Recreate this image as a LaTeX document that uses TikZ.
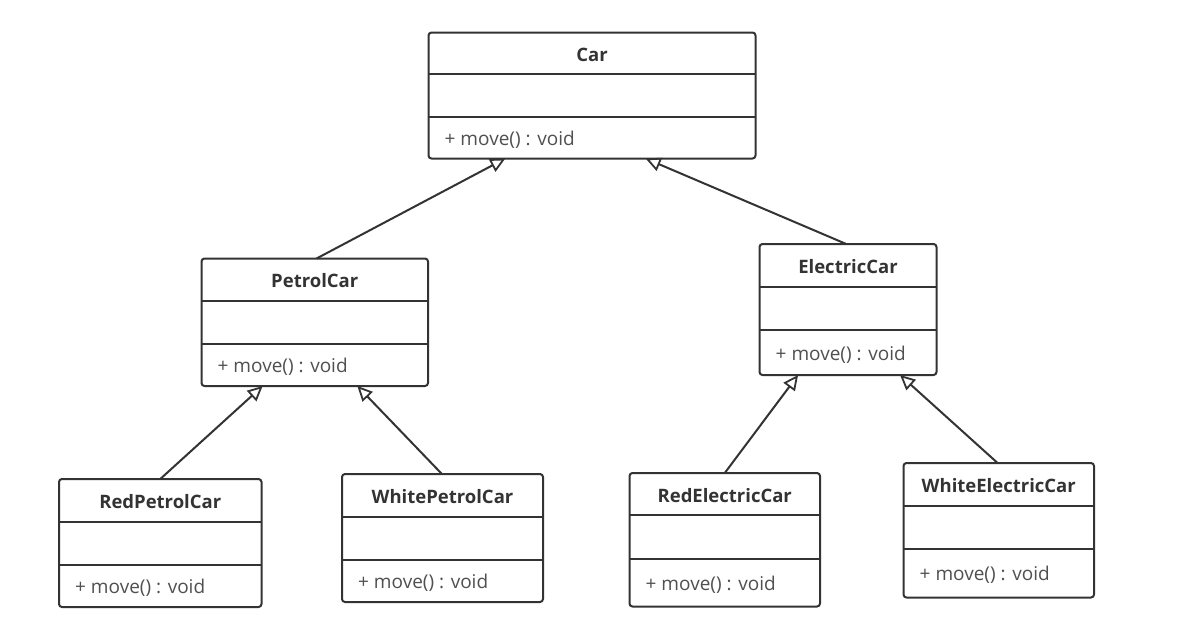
\documentclass[tikz,border=0pt]{standalone}
\usepackage{fontspec}
\setmainfont{Open Sans}
\usetikzlibrary{arrows.meta,calc}
\definecolor{ink}{HTML}{333333}
\definecolor{memberink}{HTML}{505050}
\tikzset{
  classbox/.style={draw=ink, line width=2pt, rounded corners=3pt, fill=white,
    inner sep=0pt, outer sep=0pt, anchor=north west},
  divider/.style={draw=ink, line width=2pt},
  classname/.style={font=\fontsize{18.5}{20}\selectfont\bfseries, text=ink, inner sep=0pt},
  member/.style={font=\fontsize{19}{21}\selectfont, text=memberink, inner sep=0pt, anchor=west},
  inherit/.style={draw=ink, line width=2pt,
    -{Triangle[open, length=15pt, width=14pt, line width=1.8pt]}}
}
% #1 name, #2 left, #3 top, #4 right, #5 bottom, #6 first divider, #7 second divider, #8 class name
\newcommand\umlclass[8]{%
  \node[classbox, minimum width={(#4-#2)*1pt}, minimum height={(#5-#3)*1pt}] (#1) at (#2,#3) {};
  \draw[divider] (#2,#6) -- (#4,#6);
  \draw[divider] (#2,#7) -- (#4,#7);
  \node[classname] (#1-name) at ({(#2+#4)/2},{(#3+#6)/2+1.5}) {#8};
  \node[member] (#1-op) at (#2+16,{(#7+#5)/2+2}) {+ move() : void};
}
\begin{document}
\begin{tikzpicture}[x=1pt,y=-1pt]
\useasboundingbox (0,0) rectangle (1196,630);
\fill[white] (0,0) rectangle (1196,630);

\umlclass{car}{428.5}{32.5}{755.5}{158.5}{73.5}{116.5}{Car}
\umlclass{petrol}{201.5}{258.5}{428}{386}{300.5}{343.5}{PetrolCar}
\umlclass{electric}{759.5}{244}{936.5}{375}{287}{330}{ElectricCar}
\umlclass{redpetrol}{59}{479}{261.5}{607}{521.5}{564.5}{RedPetrolCar}
\umlclass{whitepetrol}{342}{474}{543}{602}{517}{560}{WhitePetrolCar}
\umlclass{redelectric}{629.5}{473}{820}{606.5}{514.5}{558.5}{RedElectricCar}
\umlclass{whiteelectric}{903.5}{463}{1094}{597.5}{506}{549}{WhiteElectricCar}

% generalisation arrows, child to parent
\draw[inherit] ($(petrol.north west)!0.508!(petrol.north east)$) -- ($(car.south west)!0.235!(car.south east)$);
\draw[inherit] ($(electric.north west)!0.49!(electric.north east)$) -- ($(car.south west)!0.664!(car.south east)$);
\draw[inherit] ($(redpetrol.north west)!0.5!(redpetrol.north east)$) -- ($(petrol.south west)!0.27!(petrol.south east)$);
\draw[inherit] ($(whitepetrol.north west)!0.497!(whitepetrol.north east)$) -- ($(petrol.south west)!0.688!(petrol.south east)$);
\draw[inherit] ($(redelectric.north west)!0.5!(redelectric.north east)$) -- ($(electric.south west)!0.218!(electric.south east)$);
\draw[inherit] ($(whiteelectric.north west)!0.494!(whiteelectric.north east)$) -- ($(electric.south west)!0.794!(electric.south east)$);
\end{tikzpicture}
\end{document}
